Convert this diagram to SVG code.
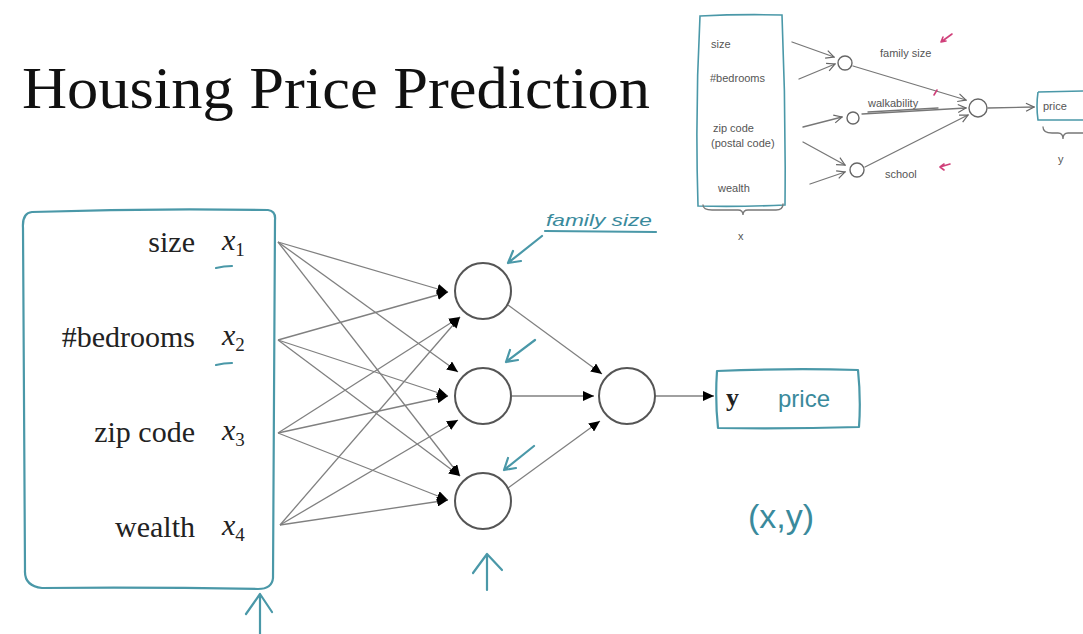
<svg xmlns="http://www.w3.org/2000/svg" width="1083" height="634" viewBox="0 0 1083 634">
<defs>
<marker id="ah" markerUnits="userSpaceOnUse" markerWidth="12" markerHeight="10" refX="11" refY="5" orient="auto">
<path d="M0,0 L11,5 L0,10 Z" fill="#000"/>
</marker>
<marker id="sa" markerUnits="userSpaceOnUse" markerWidth="10" markerHeight="10" refX="9" refY="5" orient="auto">
<path d="M1,1 L9,5 L1,9" fill="none" stroke="#666" stroke-width="1.2"/>
</marker>
</defs>
<style>
.title{font-family:"Liberation Serif",serif;font-size:60px;fill:#111}
.lbl{font-family:"Liberation Serif",serif;font-size:30px;fill:#222;text-anchor:end}
.xv{font-family:"Liberation Serif",serif;font-style:italic;font-size:30px;fill:#222}
.sub{font-size:19px;font-style:normal}
.hw{font-family:"Liberation Sans",sans-serif;fill:#3a8a9c}
.teal{fill:none;stroke:#4a98a8;stroke-width:2.2;stroke-linecap:round;stroke-linejoin:round}
.conn{fill:none;stroke:#808080;stroke-width:1.3}
.node{fill:#fff;stroke:#555;stroke-width:2}
.ins{font-family:"Liberation Sans",sans-serif;font-size:11px;fill:#555}
.inl{fill:none;stroke:#777;stroke-width:1.3;stroke-linecap:round}
.pink{fill:none;stroke:#d0407a;stroke-width:1.6;stroke-linecap:round}
</style>
<rect width="1083" height="634" fill="#fff"/>
<text class="title" x="22" y="108" textLength="628" lengthAdjust="spacingAndGlyphs">Housing Price Prediction</text>

<g id="input-box">
<path class="teal" d="M32,212 Q150,208 268,210 Q276,211 275,220 L273,578 Q272,589 258,589 Q150,587 42,588 Q24,586 25,570 L23,228 Q22,213 32,212 Z"/>
<text class="lbl" x="195" y="252">size</text>
<text class="lbl" x="195" y="347">#bedrooms</text>
<text class="lbl" x="195" y="442">zip code</text>
<text class="lbl" x="195" y="537">wealth</text>
<text class="xv" x="222" y="250">x<tspan class="sub" dy="6">1</tspan></text>
<text class="xv" x="222" y="345">x<tspan class="sub" dy="6">2</tspan></text>
<text class="xv" x="222" y="440">x<tspan class="sub" dy="6">3</tspan></text>
<text class="xv" x="222" y="535">x<tspan class="sub" dy="6">4</tspan></text>
<path class="teal" d="M216,268 Q224,266 232,266 M216,365 Q224,363 232,363"/>
</g>

<g id="connectors">
<line class="conn" x1="278" y1="242" x2="448" y2="292" marker-end="url(#ah)"/>
<line class="conn" x1="278" y1="340" x2="448" y2="292" marker-end="url(#ah)"/>
<line class="conn" x1="278" y1="433" x2="460" y2="317" marker-end="url(#ah)"/>
<line class="conn" x1="280" y1="525" x2="460" y2="317" marker-end="url(#ah)"/>
<line class="conn" x1="278" y1="242" x2="458" y2="372" marker-end="url(#ah)"/>
<line class="conn" x1="278" y1="340" x2="448" y2="396" marker-end="url(#ah)"/>
<line class="conn" x1="278" y1="433" x2="448" y2="396" marker-end="url(#ah)"/>
<line class="conn" x1="280" y1="525" x2="458" y2="420" marker-end="url(#ah)"/>
<line class="conn" x1="278" y1="242" x2="460" y2="476" marker-end="url(#ah)"/>
<line class="conn" x1="278" y1="340" x2="460" y2="476" marker-end="url(#ah)"/>
<line class="conn" x1="278" y1="433" x2="448" y2="500" marker-end="url(#ah)"/>
<line class="conn" x1="280" y1="525" x2="448" y2="500" marker-end="url(#ah)"/>
<line class="conn" x1="508" y1="305" x2="602" y2="374" marker-end="url(#ah)"/>
<line class="conn" x1="512" y1="396" x2="594" y2="396" marker-end="url(#ah)"/>
<line class="conn" x1="508" y1="488" x2="600" y2="421" marker-end="url(#ah)"/>
<line class="conn" x1="655" y1="396" x2="714" y2="396" marker-end="url(#ah)"/>
</g>

<g id="hidden-1"><circle class="node" cx="483" cy="291" r="28"/></g>
<g id="hidden-2"><circle class="node" cx="483" cy="396" r="28"/></g>
<g id="hidden-3"><circle class="node" cx="483" cy="501" r="28"/></g>
<g id="output-node"><circle class="node" cx="627" cy="396" r="28"/></g>

<g id="output-box">
<path class="teal" d="M717,371 Q790,368 858,370 Q861,399 859,427 Q790,429 718,428 Q715,400 717,371 Z"/>
<text x="726" y="406" font-family="Liberation Serif,serif" font-weight="bold" font-size="26" fill="#222">y</text>
<text class="hw" x="778" y="407" font-size="24">price</text>
</g>

<g id="annotations">
<text class="hw" x="546" y="226" font-size="17" style="font-style:italic" textLength="106" lengthAdjust="spacingAndGlyphs">family size</text>
<path class="teal" d="M545,231 L656,232" stroke-width="1.6"/>
<path class="teal" d="M542,236 L508,263 M508,263 L513,251 M508,263 L521,261"/>
<path class="teal" d="M535,340 L506,362 M506,362 L510,350 M506,362 L518,360"/>
<path class="teal" d="M534,446 L504,470 M504,470 L508,458 M504,470 L516,468"/>
<path class="teal" d="M487,590 L487,554 M473,573 L487,554 L502,570"/>
<path class="teal" d="M260,634 L260,594 M246,614 L260,594 L272,612"/>
<text class="hw" x="748" y="528" font-size="34">(x,y)</text>
</g>

<g id="inset">
<path d="M700,16 Q740,14 782,15 Q786,110 785,205 Q740,207 698,206 Q695,110 700,16 Z" fill="none" stroke="#4a98a8" stroke-width="1.6"/>
<text class="ins" x="711" y="48">size</text>
<text class="ins" x="710" y="82" font-size="10">#bedrooms</text>
<text class="ins" x="713" y="132" font-size="10">zip code</text>
<text class="ins" x="711" y="147" font-size="10">(postal code)</text>
<text class="ins" x="718" y="192">wealth</text>
<path class="inl" d="M703,205 Q703,210 712,210 L738,210 Q743,210 743,215 Q743,210 748,210 L776,210 Q783,210 783,204"/>
<text class="ins" x="738" y="240" font-size="14">x</text>
<line class="inl" x1="792" y1="42" x2="834" y2="57" marker-end="url(#sa)"/>
<line class="inl" x1="799" y1="79" x2="835" y2="64" marker-end="url(#sa)"/>
<line class="inl" x1="803" y1="127" x2="842" y2="117" marker-end="url(#sa)"/>
<line class="inl" x1="803" y1="142" x2="845" y2="165" marker-end="url(#sa)"/>
<line class="inl" x1="810" y1="184" x2="845" y2="172" marker-end="url(#sa)"/>
<circle cx="845" cy="63" r="7" fill="#fff" stroke="#666" stroke-width="1.4"/>
<circle cx="853" cy="118" r="6" fill="#fff" stroke="#666" stroke-width="1.4"/>
<circle cx="857" cy="170" r="7" fill="#fff" stroke="#666" stroke-width="1.4"/>
<circle cx="978" cy="108" r="9" fill="#fff" stroke="#666" stroke-width="1.4"/>
<line class="inl" x1="853" y1="66" x2="966" y2="100" marker-end="url(#sa)"/>
<line class="inl" x1="862" y1="114" x2="966" y2="108" marker-end="url(#sa)"/>
<line class="inl" x1="865" y1="167" x2="968" y2="115" marker-end="url(#sa)"/>
<line class="inl" x1="988" y1="108" x2="1034" y2="107" marker-end="url(#sa)"/>
<text class="ins" x="880" y="57">family size</text>
<text class="ins" x="868" y="107" font-size="10">walkability</text>
<path class="inl" d="M868,112 L938,108" stroke-width="1"/>
<text class="ins" x="885" y="178">school</text>
<path class="pink" d="M952,34 L941,42 M941,42 L943,37 M941,42 L946,41"/>
<path class="pink" d="M937,90 L934,95"/>
<path class="pink" d="M950,164 L940,167 M940,167 L944,164 M940,167 L944,170"/>
<path d="M1038,92 L1083,91 M1038,92 Q1036,106 1038,120 L1083,120" fill="none" stroke="#4a98a8" stroke-width="1.6"/>
<text class="ins" x="1043" y="110">price</text>
<path class="inl" d="M1043,127 Q1043,133 1052,133 L1058,133 Q1063,133 1063,139 Q1063,133 1068,133 L1083,133"/>
<text class="ins" x="1058" y="163" font-size="14">y</text>
</g>
</svg>
